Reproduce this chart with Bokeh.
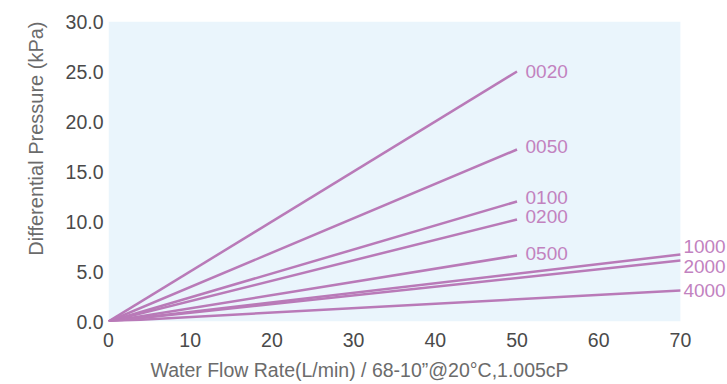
from bokeh.plotting import figure
from bokeh.models import (Range1d, FixedTicker, ColumnDataSource, LabelSet,
                          CustomJSTickFormatter, BoxAnnotation, Title)
from bokeh.core.properties import value
from bokeh.embed import file_html
from bokeh.resources import INLINE

# Data
series = ["0020", "0050", "0100", "0200", "0500", "1000", "2000", "4000"]
flow_end = [50, 50, 50, 50, 50, 70, 70, 70]
dp_end = [25.0, 17.2, 12.0, 10.2, 6.6, 6.7, 6.1, 3.1]
x_ticks = [0, 10, 20, 30, 40, 50, 60, 70]
y_ticks = [0, 5, 10, 15, 20, 25, 30]
x_title = "Water Flow Rate(L/min) / 68-10\u201d@20\u00b0C,1.005cP"
y_title = "Differential Pressure (kPa)"

LINE = "#b97ab8"
TXT = "#c282bf"
FONT = "Liberation Sans"

p = figure(frame_width=619, frame_height=300, output_backend="svg", toolbar_location=None,
           x_range=Range1d(0, 619 / 8.17), y_range=Range1d(0, 30),
           min_border_left=108, min_border_right=0, min_border_top=21, min_border_bottom=55)
p.background_fill_color = "white"
p.border_fill_color = "white"
p.outline_line_color = None
p.grid.grid_line_color = None

p.add_layout(BoxAnnotation(left=0, right=70, bottom=0, top=30, fill_color="#eaf5fc",
                           fill_alpha=1, line_color=None, level="underlay"))

for s, xe, ye in zip(series, flow_end, dp_end):
    p.line([0, xe], [0, ye], line_color=LINE, line_width=2.5)

# label offsets (pixels)
x_off = [8.5 if xe == 50 else 3 for xe in flow_end]
y_off = [0, 3, 4, 3, 2, 8, -6, 0]
src = ColumnDataSource(dict(x=flow_end, y=dp_end, t=series, xo=x_off, yo=y_off))
p.add_layout(LabelSet(source=src, x="x", y="y", text="t", x_offset="xo", y_offset="yo",
                      text_color=TXT, text_font=value(FONT), text_font_size="19px",
                      text_baseline="middle", text_align="left"))

for ax in (p.xaxis[0], p.yaxis[0]):
    ax.axis_line_color = None
    ax.major_tick_line_color = None
    ax.minor_tick_line_color = None
    ax.major_tick_out = 0
    ax.major_tick_in = 0
    ax.major_label_text_font = FONT
    ax.major_label_text_font_size = "19.5px"
    ax.major_label_text_color = "#4a4a4a"

p.xaxis.ticker = FixedTicker(ticks=x_ticks)
p.yaxis.ticker = FixedTicker(ticks=y_ticks)
p.yaxis.formatter = CustomJSTickFormatter(code="return tick.toFixed(1);")
p.xaxis.major_label_standoff = 11
p.yaxis.major_label_standoff = 5

p.add_layout(Title(text=x_title, align="left", offset=42, text_font=FONT,
                   text_font_size="19.5px", text_color="#6b6b6b", text_font_style="normal",
                   standoff=14), "below")
p.add_layout(Title(text=y_title, align="right", offset=0, text_font=FONT,
                   text_font_size="20px", text_color="#6b6b6b", text_font_style="normal",
                   standoff=31), "left")

open("out.html", "w").write(file_html(p, INLINE))
